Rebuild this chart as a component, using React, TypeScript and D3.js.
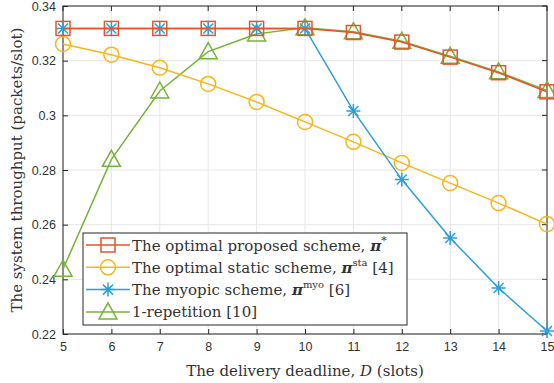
import * as d3 from "d3";
import { useEffect, useRef } from "react";

// data
const deadlines = [5, 6, 7, 8, 9, 10, 11, 12, 13, 14, 15];
const optimal = [0.3318, 0.3318, 0.3318, 0.3318, 0.3318, 0.3318, 0.3303, 0.3268, 0.3213, 0.3156, 0.3086];
const staticScheme = [0.3261, 0.3222, 0.3174, 0.3115, 0.3049, 0.2976, 0.2903, 0.2826, 0.2752, 0.2679, 0.2602];
const myopic = [0.3318, 0.3318, 0.3318, 0.3318, 0.3318, 0.3318, 0.3016, 0.2765, 0.2551, 0.2368, 0.2211];
const repetition = [0.2437, 0.2839, 0.3089, 0.3233, 0.3298, 0.332, 0.3306, 0.3271, 0.3216, 0.3159, 0.3091];
const yTicks = [0.22, 0.24, 0.26, 0.28, 0.3, 0.32, 0.34];

const W = 554;
const H = 383;
const margin = { left: 63, right: 7, top: 6, bottom: 49 };
const serif = "DejaVu Serif, serif";

type Series = { name: string; sup: string; ref: string; color: string; marker: string; values: number[] };

const series: Series[] = [
  { name: "The optimal proposed scheme, ", sup: "*", ref: "", color: "#E8532B", marker: "square", values: optimal },
  { name: "The optimal static scheme, ", sup: "sta", ref: " [4]", color: "#F8B619", marker: "circle", values: staticScheme },
  { name: "The myopic scheme, ", sup: "myo", ref: " [6]", color: "#2C9FDB", marker: "star", values: myopic },
  { name: "1-repetition [10]", sup: "", ref: "", color: "#77B23A", marker: "triangle", values: repetition },
];

function drawMarker(g: any, type: string, x: number, y: number, color: string) {
  if (type === "square") {
    g.append("rect").attr("x", x - 7).attr("y", y - 7).attr("width", 14).attr("height", 14)
      .attr("fill", "none").attr("stroke", color).attr("stroke-width", 1.5);
  } else if (type === "circle") {
    g.append("circle").attr("cx", x).attr("cy", y).attr("r", 7.5)
      .attr("fill", "none").attr("stroke", color).attr("stroke-width", 1.5);
  } else if (type === "triangle") {
    g.append("path").attr("d", `M${x},${y - 9}L${x + 9},${y + 7}L${x - 9},${y + 7}Z`)
      .attr("fill", "none").attr("stroke", color).attr("stroke-width", 1.5);
  } else {
    const r = 7, d = 5;
    g.append("path")
      .attr("d", `M${x - r},${y}H${x + r}M${x},${y - r}V${y + r}M${x - d},${y - d}L${x + d},${y + d}M${x - d},${y + d}L${x + d},${y - d}`)
      .attr("stroke", color).attr("stroke-width", 1.5);
  }
}

export default function App() {
  const svgRef = useRef<SVGSVGElement>(null);

  useEffect(() => {
    const svg = d3.select(svgRef.current);
    svg.selectAll("*").remove();

    const x = d3.scaleLinear().domain([5, 15]).range([margin.left, W - margin.right]);
    const y = d3.scaleLinear().domain([0.22, 0.34]).range([H - margin.bottom, margin.top]);

    svg.append("rect").attr("width", W).attr("height", H).attr("fill", "#fff");

    // grid
    const grid = svg.append("g").attr("stroke", "#e6e6e6").attr("stroke-width", 1);
    deadlines.forEach((d) => {
      grid.append("line").attr("x1", x(d)).attr("x2", x(d)).attr("y1", y(0.22)).attr("y2", y(0.34));
    });
    yTicks.forEach((t) => {
      grid.append("line").attr("x1", x(5)).attr("x2", x(15)).attr("y1", y(t)).attr("y2", y(t));
    });

    // axes
    const axisColor = "#262626";
    const xAxis = d3.axisBottom(x).tickValues(deadlines).tickSize(-5).tickPadding(8).tickFormat(d3.format("d"));
    svg.append("g").attr("transform", `translate(0,${y(0.22)})`).call(xAxis)
      .call((g) => g.select(".domain").remove());
    const yAxis = d3.axisLeft(y).tickValues(yTicks).tickSize(-5).tickPadding(7).tickFormat((d: any) => d3.format("")(+d.toFixed(2)));
    svg.append("g").attr("transform", `translate(${x(5)},0)`).call(yAxis)
      .call((g) => g.select(".domain").remove());
    // right and top ticks
    const topTicks = svg.append("g").attr("stroke", axisColor);
    deadlines.forEach((d) => {
      topTicks.append("line").attr("x1", x(d)).attr("x2", x(d)).attr("y1", y(0.34)).attr("y2", y(0.34) + 5);
    });
    yTicks.forEach((t) => {
      topTicks.append("line").attr("x1", x(15)).attr("x2", x(15) - 5).attr("y1", y(t)).attr("y2", y(t));
    });
    svg.selectAll(".tick line").attr("stroke", axisColor);
    svg.selectAll(".tick text").attr("fill", "#333").attr("font-family", "Liberation Sans, Arial, sans-serif").attr("font-size", 12.5);

    svg.append("rect").attr("x", x(5)).attr("y", y(0.34)).attr("width", x(15) - x(5)).attr("height", y(0.22) - y(0.34))
      .attr("fill", "none").attr("stroke", axisColor).attr("stroke-width", 1);

    // series
    const line = d3.line<number>().x((_, i) => x(deadlines[i])).y((v) => y(v));
    const order = [3, 1, 2, 0];
    order.forEach((si) => {
      const s = series[si];
      const g = svg.append("g");
      g.append("path").attr("d", line(s.values)).attr("fill", "none").attr("stroke", s.color).attr("stroke-width", 1.5);
      s.values.forEach((v, i) => drawMarker(g, s.marker, x(deadlines[i]), y(v), s.color));
    });

    // legend
    const lg = svg.append("g");
    lg.append("rect").attr("x", 83).attr("y", 233).attr("width", 324).attr("height", 92)
      .attr("fill", "#fff").attr("stroke", axisColor).attr("stroke-width", 1);
    series.forEach((s, i) => {
      const ly = 245 + i * 22.3;
      lg.append("line").attr("x1", 86).attr("x2", 130).attr("y1", ly).attr("y2", ly).attr("stroke", s.color).attr("stroke-width", 1.5);
      drawMarker(lg, s.marker, 108, ly, s.color);
      const t = lg.append("text").attr("x", 132).attr("y", ly + 5.5)
        .attr("font-family", serif).attr("font-size", 15).attr("fill", "#333");
      t.append("tspan").text(s.name);
      if (s.sup) {
        t.append("tspan").text("π").attr("font-weight", "bold").attr("font-style", "italic");
        t.append("tspan").text(s.sup).attr("font-size", s.sup === "*" ? 11 : 10).attr("dy", -7);
        t.append("tspan").text(s.ref).attr("dy", 7);
      }
    });

    // axis labels
    svg.append("text").attr("x", x(10)).attr("y", 376).attr("text-anchor", "middle")
      .attr("font-family", serif).attr("font-size", 15).attr("fill", "#333")
      .html('The delivery deadline, <tspan font-style="italic">D</tspan> (slots)');
    svg.append("text").attr("transform", `translate(22,${(y(0.22) + y(0.34)) / 2}) rotate(-90)`).attr("text-anchor", "middle")
      .attr("font-family", serif).attr("font-size", 15).attr("fill", "#333")
      .text("The system throughput (packets/slot)");
  }, []);

  return (
    <div style={{ position: "absolute", left: 0, top: 0 }}>
      <svg ref={svgRef} width={W} height={H} />
    </div>
  );
}
